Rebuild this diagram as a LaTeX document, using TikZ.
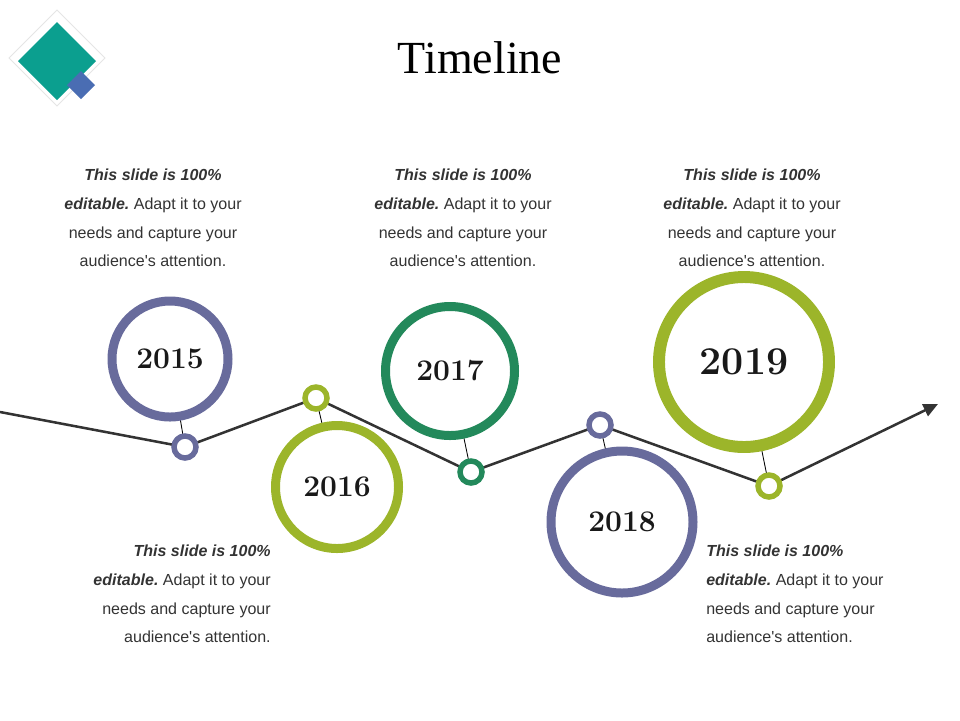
\documentclass[tikz,border=0pt]{standalone}
\usepackage{fontspec}
\setsansfont{Liberation Sans}
\newfontfamily\titlefont{Liberation Serif}
\usetikzlibrary{arrows.meta,backgrounds}
\definecolor{slate}{HTML}{686B9C}
\definecolor{lime}{HTML}{9CB52A}
\definecolor{forest}{HTML}{23895B}
\definecolor{logoteal}{HTML}{0B9F8F}
\definecolor{logoblue}{HTML}{4A6DB3}
\definecolor{ink}{HTML}{333333}
\frenchspacing

\begin{document}
\begin{tikzpicture}[x=0.25mm,y=-0.25mm]
\tikzstyle{every node}+=[inner sep=0pt]
\tikzstyle{year}=[circle,draw,fill=white,line width=6.4pt,text=black!90,font=\bfseries\fontsize{21.3}{24}\selectfont]
\tikzstyle{dot}=[circle,draw,fill=white,line width=3.9pt,minimum size=5.5mm]
\tikzstyle{note}=[text=ink,font=\sffamily\fontsize{11.4}{20.4}\selectfont]
\useasboundingbox (0,0) rectangle (960,720);
% logo
\draw [black!10,fill=white,line width=0.7pt] (57,10) -- (105,58) -- (57,106) -- (9,58) -- cycle;
\fill [logoteal] (57,22) -- (96,61) -- (57,100) -- (18,61) -- cycle;
\fill [logoblue] (81,71) -- (95,85) -- (81,99) -- (67,85) -- cycle;
\node [font=\titlefont\fontsize{32.7}{36}\selectfont] (title) at (480,58) {Timeline};
% years
\node [year,draw=slate,minimum size=29mm] (y2015) at (170,359) {2015};
\node [year,draw=lime,minimum size=30.75mm] (y2016) at (337,487) {2016};
\node [year,draw=forest,minimum size=32.25mm] (y2017) at (450,371) {2017};
\node [year,draw=slate,minimum size=35.5mm] (y2018) at (622,522) {2018};
\node [year,draw=lime,minimum size=42.5mm,line width=8.5pt,font=\bfseries\fontsize{28}{30}\selectfont] (y2019) at (744,362) {2019};
% dots on the line
\node [dot,draw=slate] (d2015) at (185,447) {};
\node [dot,draw=lime] (d2016) at (316,398) {};
\node [dot,draw=forest] (d2017) at (471,472) {};
\node [dot,draw=slate] (d2018) at (600,425) {};
\node [dot,draw=lime] (d2019) at (769,486) {};
\coordinate (start) at (0,412);
\coordinate (end) at (938,404);
\begin{scope}[on background layer]
\draw [ink,line width=1.8pt,-{Triangle[length=3.6mm,width=3.2mm]}] (start) -- (d2015.center) -- (d2016.center) -- (d2017.center) -- (d2018.center) -- (d2019.center) -- (end);
\draw [black,line width=0.6pt] (y2015.center) -- (d2015.center);
\draw [black,line width=0.6pt] (y2016.center) -- (d2016.center);
\draw [black,line width=0.6pt] (y2017.center) -- (d2017.center);
\draw [black,line width=0.6pt] (y2018.center) -- (d2018.center);
\draw [black,line width=0.6pt] (y2019.center) -- (d2019.center);
\end{scope}
% texts
\node [note,align=center,anchor=north] (n2015) at (153,169) {\textbf{\textit{This slide is 100\%}}\\\textbf{\textit{editable.}} Adapt it to your\\needs and capture your\\audience\textquotesingle s attention.};
\node [note,align=right,anchor=north east] (n2016) at (271,545) {\textbf{\textit{This slide is 100\%}}\\\textbf{\textit{editable.}} Adapt it to your\\needs and capture your\\audience\textquotesingle s attention.};
\node [note,align=center,anchor=north] (n2017) at (463,169) {\textbf{\textit{This slide is 100\%}}\\\textbf{\textit{editable.}} Adapt it to your\\needs and capture your\\audience\textquotesingle s attention.};
\node [note,align=left,anchor=north west] (n2018) at (706,545) {\textbf{\textit{This slide is 100\%}}\\\textbf{\textit{editable.}} Adapt it to your\\needs and capture your\\audience\textquotesingle s attention.};
\node [note,align=center,anchor=north] (n2019) at (752,169) {\textbf{\textit{This slide is 100\%}}\\\textbf{\textit{editable.}} Adapt it to your\\needs and capture your\\audience\textquotesingle s attention.};
\end{tikzpicture}
\end{document}
